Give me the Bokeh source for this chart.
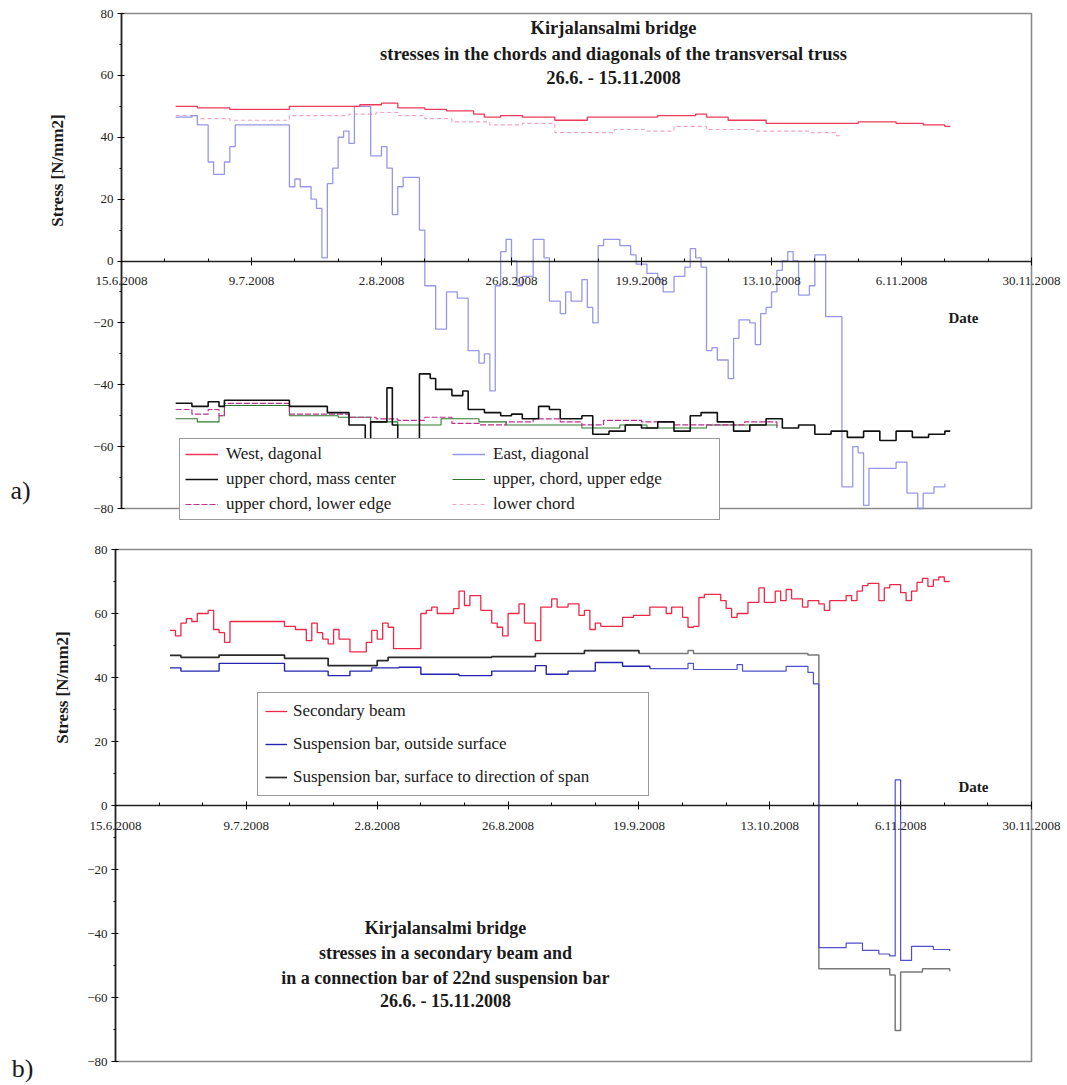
import math
import pandas as pd
from bokeh.plotting import figure
from bokeh.models import Range1d, FixedTicker, Label, Legend, LegendItem
from bokeh.layouts import column
from bokeh.embed import file_html
from bokeh.resources import INLINE

# ---------------- data ----------------
tick_labels = ["15.6.2008", "9.7.2008", "2.8.2008", "26.8.2008",
               "19.9.2008", "13.10.2008", "6.11.2008", "30.11.2008"]
y_ticks = [-80, -60, -40, -20, 0, 20, 40, 60, 80]

# panel a) transversal truss
west_dates = ["25.6", "29.6", "5.7", "16.7", "29.7", "2.8", "5.8", "10.8", "14.8", "19.8", "21.8",
              "24.8", "28.8", "3.9", "9.9", "15.9", "22.9", "29.9", "1.10", "5.10", "12.10", "22.10",
              "29.10", "5.11", "10.11", "14.11", "15.11"]
west_vals = [50, 49.5, 49, 50, 50.5, 51, 49.5, 49, 48.5, 47.5, 46.5,
             47, 46.5, 45.5, 46.5, 46.5, 47, 47.5, 46.5, 45.5, 44.5, 44.5,
             45, 44.5, 44, 43.5, 43.5]

east_dates = ["25.6", "28.6", "29.6", "1.7", "2.7", "4.7", "5.7", "6.7", "16.7", "17.7", "18.7",
              "20.7", "21.7", "22.7", "23.7", "24.7", "25.7", "26.7", "27.7", "28.7", "31.7", "2.8",
              "3.8", "4.8", "5.8", "6.8", "9.8", "10.8", "12.8", "14.8", "16.8", "18.8", "20.8",
              "21.8", "22.8", "23.8", "24.8", "25.8", "26.8", "27.8", "28.8", "30.8", "1.9", "2.9",
              "4.9", "5.9", "6.9", "8.9", "9.9", "10.9", "11.9", "12.9", "15.9", "17.9", "18.9",
              "20.9", "22.9", "23.9", "25.9", "27.9", "28.9", "29.9", "30.9", "1.10", "2.10", "3.10",
              "5.10", "6.10", "7.10", "9.10", "10.10", "11.10", "12.10", "13.10", "14.10", "15.10",
              "16.10", "17.10", "18.10", "20.10", "21.10", "23.10", "25.10", "26.10", "28.10",
              "29.10", "30.10", "31.10", "3.11", "5.11", "7.11", "9.11", "10.11", "12.11", "14.11"]
east_vals = [46.5, 47, 44, 32, 28, 32, 37, 44, 24, 26.5, 24,
             20, 17, 1, 25, 30, 40, 42, 38, 50, 34, 37,
             30, 15, 24, 27, 10, -8, -22, -10, -12, -29, -33,
             -30, -42, -8, 3, 7, 0, -8, -5, 7, 1, -13,
             -17, -10, -13, -6, -15, -20, 5, 7, 5, 2, -1,
             -4, -6, -10, -5, -2, 4, 1, -2, -29, -28, -32,
             -38, -25, -19, -20, -27, -17, -15, -10, -3, 0,
             3, 0, -11, -8, 2, -18, -18, -73, -60,
             -62, -79, -67, -67, -65, -75, -80, -75, -73, -72]

mass_dates = ["25.6", "28.6", "1.7", "3.7", "4.7", "16.7", "23.7", "27.7", "30.7", "31.7", "3.8",
              "4.8", "5.8", "9.8", "11.8", "12.8", "15.8", "17.8", "18.8", "21.8", "24.8", "26.8",
              "28.8", "31.8", "2.9", "4.9", "8.9", "10.9", "13.9", "16.9", "19.9", "22.9", "25.9",
              "28.9", "30.9", "3.10", "6.10", "9.10", "12.10", "15.10", "18.10", "21.10", "24.10",
              "27.10", "30.10", "2.11", "5.11", "8.11", "11.11", "14.11", "15.11"]
mass_vals = [-46, -47, -45.5, -47, -45, -47, -49, -53, -58, -52, -41,
             -53, -58, -36.5, -38, -41.5, -43.5, -42, -48, -49, -50, -49.5,
             -51, -47, -48, -51, -50, -56, -55, -53, -54, -52, -55,
             -50, -49, -52, -55, -53, -51, -54, -53, -56, -55,
             -57, -55, -58, -55, -57, -56, -55, -55]

upper_dates = ["25.6", "29.6", "3.7", "4.7", "16.7", "25.7", "31.7", "5.8", "13.8", "20.8", "25.8",
               "1.9", "8.9", "15.9", "20.9", "1.10", "10.10", "14.10"]
upper_vals = [-51, -52, -50, -46.7, -50, -50.5, -52, -53, -51, -52, -53,
              -53, -54, -53, -54, -53, -53, -54]

lower_edge_dates = ["25.6", "28.6", "1.7", "3.7", "4.7", "16.7", "27.7", "1.8", "5.8", "10.8", "15.8",
                    "20.8", "25.8", "30.8", "4.9", "8.9", "12.9", "19.9", "25.9", "1.10", "8.10", "14.10"]
lower_edge_vals = [-48, -49.5, -48, -50, -46, -49.5, -50.5, -51, -51.5, -50.5, -52.5,
                   -53, -52, -51, -52, -53, -51.5, -52, -53, -53, -52, -54]

lower_chord_dates = ["25.6", "29.6", "5.7", "16.7", "27.7", "1.8", "5.8", "10.8", "15.8", "22.8",
                     "28.8", "3.9", "14.9", "20.9", "25.9", "1.10", "10.10", "20.10", "25.10", "26.10"]
lower_chord_vals = [47, 46, 45.5, 47, 47.5, 48, 47, 46, 45, 44,
                    44.5, 41.5, 42.5, 42, 43.5, 42.5, 42, 41.5, 40.5, 40.5]

# panel b) secondary beam and suspension bar
beam_dates = ["25.6", "26.6", "27.6", "28.6", "29.6", "30.6", "2.7", "3.7", "4.7", "5.7", "6.7",
              "16.7", "18.7", "20.7", "21.7", "22.7", "23.7", "24.7", "25.7", "26.7", "28.7", "31.7",
              "1.8", "2.8", "3.8", "4.8", "5.8", "10.8", "11.8", "12.8", "13.8", "16.8", "17.8",
              "18.8", "19.8", "21.8", "23.8", "24.8", "25.8", "26.8", "28.8", "29.8", "31.8", "1.9",
              "3.9", "4.9", "6.9", "8.9", "9.9", "10.9", "11.9", "12.9", "16.9", "18.9", "21.9",
              "24.9", "25.9", "27.9", "28.9", "29.9", "30.9", "1.10", "4.10", "5.10", "6.10", "7.10",
              "9.10", "11.10", "12.10", "14.10", "15.10", "16.10", "17.10", "19.10", "20.10", "22.10",
              "23.10", "24.10", "27.10", "28.10", "29.10", "30.10", "31.10", "2.11", "3.11", "4.11",
              "6.11", "7.11", "8.11", "9.11", "10.11", "11.11", "12.11", "13.11", "14.11", "15.11"]
beam_vals = [54.7, 53, 57, 58.4, 57.5, 60, 61, 55, 54, 51, 57.5,
             56, 55, 51.5, 57, 54, 52, 50.5, 55, 52, 48, 51,
             54.7, 52, 57, 55.7, 49, 60, 61, 62, 60, 61.5, 67,
             62.5, 65.6, 61, 57, 55.7, 53, 60, 63, 57, 51.5, 62,
             64.6, 62, 63, 59.4, 61, 55, 57, 56, 58.8, 59.4, 62,
             60, 62, 58.8, 55.7, 56, 65, 66, 64, 61.6, 58.8, 60,
             63.5, 68, 63.5, 67, 64, 67.5, 64.6, 62, 64, 63,
             61, 64, 65.6, 64, 67, 68.7, 69.4, 64, 68, 69,
             66.5, 64, 67, 69.7, 71, 68.5, 70.5, 71.4, 70, 70]

outside_dates = ["25.6", "27.6", "4.7", "16.7", "24.7", "28.7", "1.8", "6.8", "10.8", "17.8", "23.8",
                 "31.8", "2.9", "6.9", "11.9", "16.9", "21.9", "28.9", "29.9", "7.10", "8.10", "16.10",
                 "20.10", "21.10", "22.10", "27.10", "30.10", "2.11", "4.11", "5.11", "6.11", "8.11",
                 "12.11", "15.11"]
outside_vals = [43, 42, 44.4, 42, 40.6, 42, 43, 43.2, 41, 40.6, 42,
                43.7, 41, 42, 44.7, 43.5, 42.8, 44.4, 42.5, 44, 42, 43.5,
                41.6, 38, -44.4, -43, -45.3, -46.4, -47, 8, -48.4, -44,
                -45, -45.5]

span_dates = ["25.6", "27.6", "4.7", "16.7", "24.7", "2.8", "4.8", "23.8", "31.8", "9.9", "19.9",
              "28.9", "29.9", "20.10", "22.10", "4.11", "5.11", "6.11", "10.11", "15.11"]
span_vals = [46.9, 46.3, 47, 46, 43.7, 45.3, 46.3, 46.5, 47.5, 48.4, 47.5,
             48.4, 47.5, 47, -51, -53, -70.3, -52, -51, -51.8]

# the recorded line fades to a lighter tone from this date on
fade_date = "19.9"

# ---------------- helpers ----------------
SERIF = "Liberation Serif"
W = 1067


def to_ts(lst):
    out = []
    for s in lst:
        d, m = s.split(".")
        out.append(pd.Timestamp(2008, int(m), int(d)))
    return out


tick_ts = [pd.to_datetime(t, format="%d.%m.%Y") for t in tick_labels]
tick_ms = [float(t.value / 1e6) for t in tick_ts]
minor_ms = []
for a, b in zip(tick_ms[:-1], tick_ms[1:]):
    step = (b - a) / 3
    minor_ms += [a + step, a + 2 * step]
x0, x1 = tick_ms[0], tick_ms[-1]
y0, y1 = y_ticks[0], y_ticks[-1]


def split_at(dates, vals, cut):
    ts = to_ts(dates)
    c = to_ts([cut])[0]
    i = next(k for k, t in enumerate(ts) if t >= c)
    return (ts[:i + 1], vals[:i + 1]), (ts[i:], vals[i:])


def make_fig(height, px_left, px_right, py_top, py_bottom):
    """Frame fills the whole canvas; axes are placed at the data edges."""
    sx = (px_right - px_left) / (x1 - x0)
    sy = (py_bottom - py_top) / (y1 - y0)
    xr = Range1d(x0 - px_left / sx, x1 + (W - px_right) / sx)
    yr = Range1d(y0 - (height - py_bottom) / sy, y1 + py_top / sy)
    p = figure(width=W, height=height, x_axis_type="datetime",
               x_range=xr, y_range=yr,
               output_backend="svg", toolbar_location=None, min_border=0)
    p.grid.visible = False
    p.outline_line_color = None
    p.background_fill_color = "white"
    p.border_fill_color = "white"
    # plot box (top / right / bottom edges)
    p.quad(left=[x0], right=[x1], bottom=[y0], top=[y1], fill_color=None,
           line_color="#8a8a8a", line_width=1.6)
    xa = p.xaxis[0]
    xa.fixed_location = 0
    xa.bounds = (x0, x1)
    xa.ticker = FixedTicker(ticks=tick_ms, minor_ticks=minor_ms)
    xa.major_label_overrides = {ms: lab for ms, lab in zip(tick_ms, tick_labels)}
    xa.axis_line_color = "#222222"
    xa.axis_line_width = 1.6
    xa.major_tick_in = 4
    xa.major_tick_out = 4
    xa.minor_tick_in = 3
    xa.minor_tick_out = 0
    xa.major_label_standoff = 12
    xa.major_label_text_font = SERIF
    xa.major_label_text_font_size = "13px"
    xa.major_label_text_color = "#222222"
    ya = p.yaxis[0]
    ya.fixed_location = x0
    ya.bounds = (y0, y1)
    ya.ticker = FixedTicker(ticks=y_ticks, minor_ticks=[v + 10 for v in y_ticks[:-1]])
    ya.axis_line_color = "#222222"
    ya.axis_line_width = 1.6
    ya.major_tick_in = 3
    ya.major_tick_out = 4
    ya.minor_tick_in = 0
    ya.minor_tick_out = 2
    ya.major_label_standoff = 4
    ya.major_label_text_font = SERIF
    ya.major_label_text_font_size = "13px"
    ya.major_label_text_color = "#222222"
    return p


def txt(p, height, px, py, text, size="18px", bold=True, angle=0.0):
    p.add_layout(Label(x=px, y=height - py, x_units="screen", y_units="screen", text=text,
                       text_font=SERIF, text_font_size=size,
                       text_font_style="bold" if bold else "normal",
                       text_color="#1a1a1a", text_align="center",
                       text_baseline="middle", angle=angle))


# ---------------- panel a ----------------
HA = 530
pa = make_fig(HA, 121, 1031, 13, 508)
r_lc = pa.step(to_ts(lower_chord_dates), lower_chord_vals, mode="after",
               line_color="#f4a3c6", line_width=1.2, line_dash="4 3")
r_east = pa.step(to_ts(east_dates), east_vals, mode="after",
                 line_color="#8c8ce8", line_width=1.3, line_alpha=0.9)
r_west = pa.step(to_ts(west_dates), west_vals, mode="after",
                 line_color="#ee3a58", line_width=1.3)
r_up = pa.step(to_ts(upper_dates), upper_vals, mode="after",
               line_color="#2f7a2f", line_width=1.1)
r_le = pa.step(to_ts(lower_edge_dates), lower_edge_vals, mode="after",
               line_color="#c0308f", line_width=1.2, line_dash="6 2")
r_mass = pa.step(to_ts(mass_dates), mass_vals, mode="after",
                 line_color="#111111", line_width=1.6)

leg_a = Legend(items=[
    LegendItem(label="West, dagonal", renderers=[r_west]),
    LegendItem(label="upper chord, mass center", renderers=[r_mass]),
    LegendItem(label="upper chord, lower edge", renderers=[r_le]),
    LegendItem(label="East, diagonal", renderers=[r_east]),
    LegendItem(label="upper, chord, upper edge", renderers=[r_up]),
    LegendItem(label="lower chord", renderers=[r_lc]),
], location=(179, HA - 520), ncols=2, orientation="vertical",
    label_text_font=SERIF, label_text_font_size="17px", label_text_color="#1a1a1a",
    label_width=221, label_height=20, glyph_width=33, glyph_height=20,
    label_standoff=8, spacing=5, padding=5, margin=0,
    border_line_color="#333333", border_line_width=1.3,
    background_fill_color="white", background_fill_alpha=1.0)
pa.add_layout(leg_a)

txt(pa, HA, 613, 27, "Kirjalansalmi bridge", size="18.5px")
txt(pa, HA, 613, 53, "stresses in the chords and diagonals of the transversal truss", size="18.5px")
txt(pa, HA, 613, 77, "26.6. - 15.11.2008", size="18.5px")
txt(pa, HA, 963, 317, "Date", size="15px")
txt(pa, HA, 57, 170, "Stress [N/mm2]", size="17px", angle=math.pi / 2)
txt(pa, HA, 20, 490, "a)", size="26px", bold=False)

# ---------------- panel b ----------------
HB = 555
pb = make_fig(HB, 115, 1031, 19, 531)
(sp1x, sp1y), (sp2x, sp2y) = split_at(span_dates, span_vals, fade_date)
(ou1x, ou1y), (ou2x, ou2y) = split_at(outside_dates, outside_vals, fade_date)
pb.step(sp2x, sp2y, mode="after", line_color="#7a7a7a", line_width=1.5)
pb.step(ou2x, ou2y, mode="after", line_color="#4f4fd0", line_width=1.2)
r_span = pb.step(sp1x, sp1y, mode="after", line_color="#2a2a2a", line_width=1.7)
r_out = pb.step(ou1x, ou1y, mode="after", line_color="#2424b0", line_width=1.4)
r_beam = pb.step(to_ts(beam_dates), beam_vals, mode="after",
                 line_color="#f02848", line_width=1.3)

leg_b = Legend(items=[
    LegendItem(label="Secondary beam", renderers=[r_beam]),
    LegendItem(label="Suspension bar, outside surface", renderers=[r_out]),
    LegendItem(label="Suspension bar, surface to direction of span", renderers=[r_span]),
], location=(257, HB - 266),
    label_text_font=SERIF, label_text_font_size="17px", label_text_color="#1a1a1a",
    label_width=348, label_height=22, glyph_width=22, glyph_height=22,
    label_standoff=6, spacing=11, padding=7, margin=0,
    border_line_color="#333333", border_line_width=1.3,
    background_fill_color="white", background_fill_alpha=1.0)
pb.add_layout(leg_b)

txt(pb, HB, 445, 397, "Kirjalansalmi bridge")
txt(pb, HB, 445, 422, "stresses in a secondary beam and")
txt(pb, HB, 445, 447, "in a connection bar of 22nd suspension bar")
txt(pb, HB, 445, 470, "26.6. - 15.11.2008")
txt(pb, HB, 973, 256, "Date", size="15px")
txt(pb, HB, 62, 157, "Stress [N/mm2]", size="17px", angle=math.pi / 2)
txt(pb, HB, 22, 538, "b)", size="26px", bold=False)

layout = column(pa, pb, spacing=0)
open("out.html", "w").write(file_html(layout, INLINE))
